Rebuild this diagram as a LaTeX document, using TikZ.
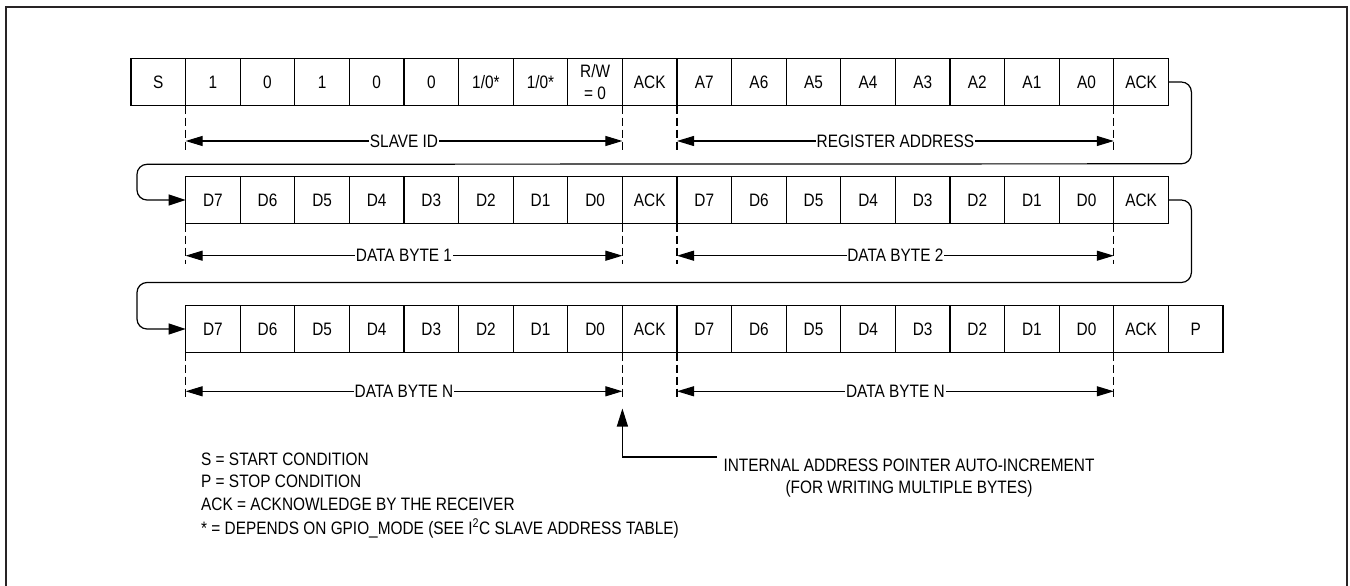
\documentclass[tikz,border=0pt]{standalone}
\usepackage{fontspec}
\setmainfont[FakeStretch=0.855]{Liberation Sans}
\usetikzlibrary{arrows.meta,calc}
\definecolor{framecol}{RGB}{40,36,37}
\begin{document}
\begin{tikzpicture}[x=1pt,y=-1pt,
  fnt/.style={font=\fontsize{18}{22}\selectfont},
  cell/.style={fnt,draw=black, line width=1.2pt, minimum width=54.6pt, minimum height=47pt,
    inner sep=0pt, outer sep=0pt, anchor=north west, align=center},
  dashln/.style={line width=1.1pt, dash pattern=on 8pt off 4pt},
  dim/.style={line width=1.1pt, {Triangle[length=17pt,width=10pt]}-{Triangle[length=17pt,width=10pt]}},
  dimlabel/.style={fnt, fill=white, inner xsep=0.8pt, inner ysep=1pt},
  looparrow/.style={line width=1.2pt, rounded corners=10pt, -{Triangle[length=17pt,width=11pt]}},
  ptr/.style={line width=1.2pt, -{Triangle[length=18pt,width=11pt]}},
  txt/.style={fnt, inner sep=0pt}
]
\useasboundingbox (0,0) rectangle (1350,586);
\draw[line width=2pt, draw=framecol] (6,586) -- (6,7) -- (1347,7) -- (1347,586);

% row 1
\foreach \t [count=\i from 0] in {S,1,0,1,0,0,{1/0*},{1/0*},{R/W\\= 0},ACK,A7,A6,A5,A4,A3,A2,A1,A0,ACK}
  \node[cell] (r1c\i) at ({131+\i*54.6},58.5) {\t};
% row 2
\foreach \t [count=\i from 1] in {D7,D6,D5,D4,D3,D2,D1,D0,ACK,D7,D6,D5,D4,D3,D2,D1,D0,ACK}
  \node[cell] (r2c\i) at ({131+\i*54.6},176.5) {\t};
% row 3
\foreach \t [count=\i from 1] in {D7,D6,D5,D4,D3,D2,D1,D0,ACK,D7,D6,D5,D4,D3,D2,D1,D0,ACK,P}
  \node[cell] (r3c\i) at ({131+\i*54.6},305.5) {\t};

% loops
\draw[looparrow] (r1c18.east) -- ++(23,0) -- ++(0,81.8) -- (137,164.3) |- (r2c1.west);
\draw[looparrow] (r2c18.east) -- ++(23,0) -- ++(0,82.5) -- (137,282.5) |- (r3c1.west);

% row 1 dimensions
\foreach \c in {1,9,10,18}
  \draw[dashln] (r1c\c.south west) -- ++(0,46.5);
\draw[dim] ($(r1c1.south west)+(0,35.5)$) -- ($(r1c9.south west)+(0,35.5)$)
  node[dimlabel,midway] (lab1) {SLAVE ID};
\draw[dim] ($(r1c10.south west)+(0,35.5)$) -- ($(r1c18.south west)+(0,35.5)$)
  node[dimlabel,midway] (lab2) {REGISTER ADDRESS};

% row 2 dimensions
\foreach \c in {1,9,10,18}
  \draw[dashln] (r2c\c.south west) -- ++(0,40);
\draw[dim] ($(r2c1.south west)+(0,32.2)$) -- ($(r2c9.south west)+(0,32.2)$)
  node[dimlabel,midway] (lab3) {DATA BYTE 1};
\draw[dim] ($(r2c10.south west)+(0,32.2)$) -- ($(r2c18.south west)+(0,32.2)$)
  node[dimlabel,midway] (lab4) {DATA BYTE 2};

% row 3 dimensions
\foreach \c in {1,9,10,18}
  \draw[dashln] (r3c\c.south west) -- ++(0,47.5);
\draw[dim] ($(r3c1.south west)+(0,38.8)$) -- ($(r3c9.south west)+(0,38.8)$)
  node[dimlabel,midway] (lab5) {DATA BYTE N};
\draw[dim] ($(r3c10.south west)+(0,38.8)$) -- ($(r3c18.south west)+(0,38.8)$)
  node[dimlabel,midway] (lab6) {DATA BYTE N};

% pointer
\coordinate (pend) at (717,457);
\coordinate (ptip) at ($(r3c9.south west)+(0,56)$);
\draw[ptr] (pend) -| (ptip);
\node[txt,anchor=base] (note1) at (909,471) {INTERNAL ADDRESS POINTER AUTO-INCREMENT};
\node[txt,anchor=base] (note2) at (909,493) {(FOR WRITING MULTIPLE BYTES)};

% legend
\node[txt,anchor=base west] (leg1) at (201,465) {S = START CONDITION};
\node[txt,anchor=base west] (leg2) at (201,487.5) {P = STOP CONDITION};
\node[txt,anchor=base west] (leg3) at (201,510) {ACK = ACKNOWLEDGE BY THE RECEIVER};
\node[txt,anchor=base west] (leg4) at (201,534) {* = DEPENDS ON GPIO\_MODE (SEE I\textsuperscript{2}C SLAVE ADDRESS TABLE)};
\end{tikzpicture}
\end{document}
